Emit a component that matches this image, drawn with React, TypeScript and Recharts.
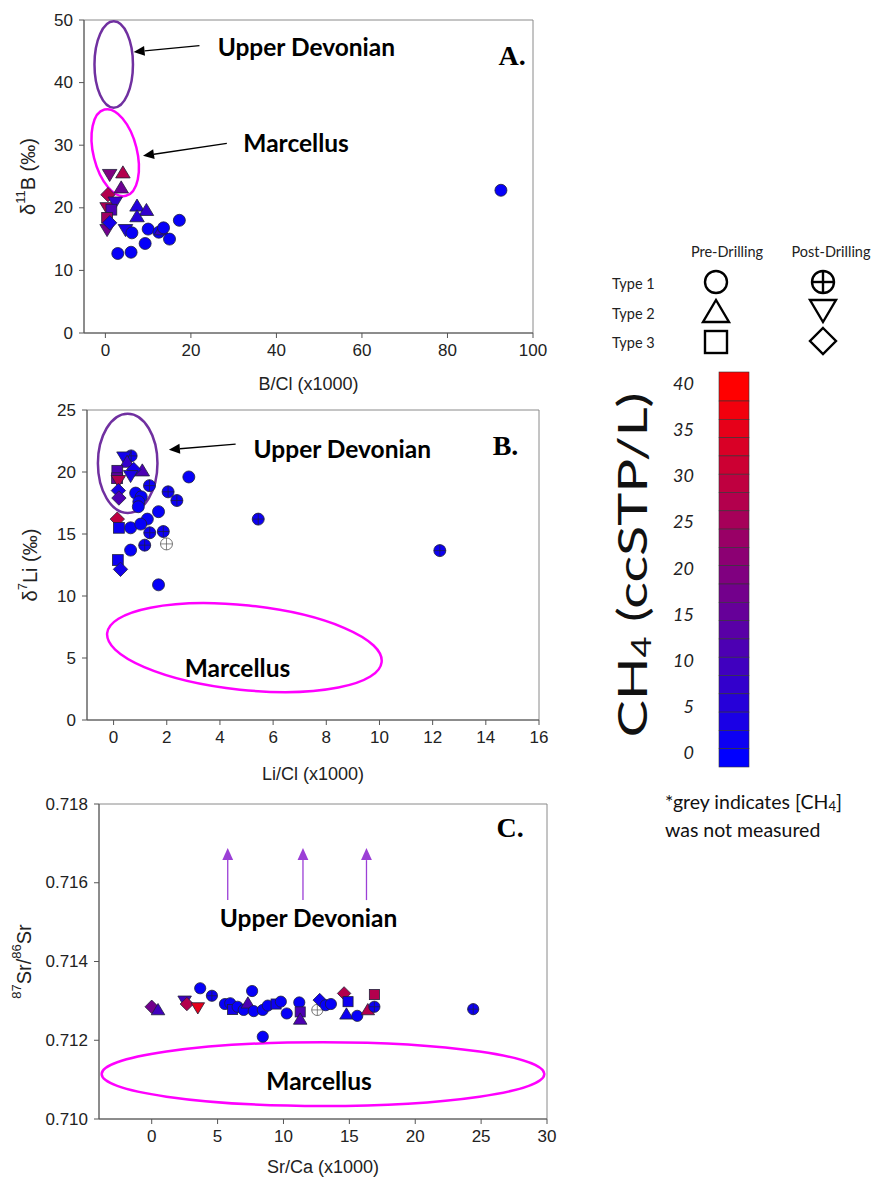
import React from 'react'
import {
  ScatterChart,
  Scatter,
  XAxis,
  YAxis,
  ReferenceArea,
  ReferenceLine,
  ReferenceDot,
} from 'recharts'

// marker kinds: pre-drilling c = type 1, t = type 2, s = type 3
//               post-drilling x = type 1, v = type 2, d = type 3
type Kind = 'c' | 't' | 's' | 'x' | 'v' | 'd'
type Pt = [number, number, number | null, Kind] // x, y, CH4 (ccSTP/L, null = not measured), kind

// A: B/Cl (x1000) vs d11B
const boronPts: Pt[] = [
  [1.0, 25.3, 20, 'v'],
  [4.1, 25.6, 28, 't'],
  [3.7, 23.2, 17, 't'],
  [0.6, 22.1, 28, 'd'],
  [0.4, 20.0, 27, 'v'],
  [2.3, 20.9, 8, 'v'],
  [1.4, 19.7, 12, 's'],
  [0.4, 18.4, 25, 's'],
  [0.4, 16.5, 18, 'v'],
  [1.0, 17.6, 3, 'd'],
  [7.4, 20.3, 5, 't'],
  [9.6, 19.6, 8, 't'],
  [7.4, 18.6, 6, 't'],
  [4.7, 16.5, 4, 'v'],
  [17.3, 18.0, 1, 'c'],
  [6.2, 16.0, 1, 'c'],
  [10.0, 16.6, 1, 'c'],
  [12.5, 16.1, 1, 'c'],
  [13.1, 16.5, 8, 't'],
  [13.6, 16.8, 1, 'c'],
  [15.0, 15.0, 1, 'c'],
  [9.3, 14.3, 1, 'c'],
  [2.9, 12.7, 1, 'c'],
  [6.0, 12.9, 1, 'c'],
  [92.5, 22.8, 1, 'c'],
]

// B: Li/Cl (x1000) vs d7Li
const lithiumPts: Pt[] = [
  [0.66, 21.3, 2, 'x'],
  [0.39, 21.2, 3, 'v'],
  [0.51, 20.8, 8, 't'],
  [0.14, 20.1, 12, 's'],
  [1.08, 20.1, 12, 't'],
  [0.76, 20.2, 3, 'd'],
  [0.64, 19.7, 4, 'v'],
  [0.13, 19.5, 15, 's'],
  [0.18, 19.3, 28, 'v'],
  [1.35, 18.9, 2, 'x'],
  [0.18, 18.5, 4, 'd'],
  [0.2, 17.9, 12, 'd'],
  [0.83, 18.3, 1, 'c'],
  [1.04, 18.0, 1, 'c'],
  [0.95, 17.6, 1, 'c'],
  [2.05, 18.4, 2, 'x'],
  [2.38, 17.7, 2, 'x'],
  [0.93, 17.2, 1, 'c'],
  [1.69, 16.8, 1, 'c'],
  [2.83, 19.6, 1, 'c'],
  [5.44, 16.2, 2, 'x'],
  [0.14, 16.2, 30, 'd'],
  [0.2, 15.5, 2, 's'],
  [0.64, 15.5, 1, 'c'],
  [1.27, 16.2, 1, 'c'],
  [1.02, 15.8, 1, 'c'],
  [1.36, 15.1, 2, 'x'],
  [1.87, 15.2, 2, 'x'],
  [1.99, 14.2, null, 'x'],
  [1.17, 14.1, 2, 'x'],
  [0.64, 13.7, 1, 'c'],
  [0.16, 12.9, 2, 's'],
  [0.26, 12.15, 3, 'd'],
  [1.69, 10.9, 1, 'c'],
  [12.27, 13.66, 2, 'x'],
]

// C: Sr/Ca (x1000) vs 87Sr/86Sr
const strontiumPts: Pt[] = [
  [0.0, 0.71285, 18, 'd'],
  [0.48, 0.71277, 10, 't'],
  [2.5, 0.713, 10, 'v'],
  [2.67, 0.71292, 28, 'd'],
  [3.5, 0.71283, 36, 'v'],
  [3.68, 0.71332, 1, 'c'],
  [4.57, 0.71313, 2, 'x'],
  [5.56, 0.71292, 1, 'c'],
  [5.96, 0.71294, 1, 'c'],
  [6.14, 0.71278, 3, 's'],
  [6.52, 0.71285, 1, 'c'],
  [6.98, 0.71277, 1, 'c'],
  [7.3, 0.71294, 12, 't'],
  [7.62, 0.71325, 1, 'c'],
  [7.74, 0.71274, 1, 'c'],
  [8.43, 0.71277, 1, 'c'],
  [8.81, 0.71288, 1, 'c'],
  [8.43, 0.71209, 1, 'c'],
  [9.44, 0.71292, 2, 's'],
  [9.8, 0.71298, 1, 'c'],
  [10.25, 0.71268, 1, 'c'],
  [11.2, 0.71296, 1, 'c'],
  [11.27, 0.71272, 12, 's'],
  [11.27, 0.71253, 12, 't'],
  [12.57, 0.71277, null, 'x'],
  [12.75, 0.71302, 2, 'd'],
  [13.2, 0.71289, 1, 'c'],
  [13.6, 0.71292, 1, 'c'],
  [14.6, 0.71319, 28, 'd'],
  [14.9, 0.71298, 2, 's'],
  [14.78, 0.71266, 2, 't'],
  [15.6, 0.71262, 1, 'c'],
  [16.4, 0.71277, 28, 't'],
  [16.9, 0.71316, 28, 's'],
  [16.9, 0.71285, 2, 'x'],
  [24.4, 0.71279, 2, 'x'],
]

const boronXTicks = [0, 20, 40, 60, 80, 100]
const boronYTicks = [0, 10, 20, 30, 40, 50]
const lithiumXTicks = [0, 2, 4, 6, 8, 10, 12, 14, 16]
const lithiumYTicks = [0, 5, 10, 15, 20, 25]
const strontiumXTicks = [0, 5, 10, 15, 20, 25, 30]
const strontiumYTicks = [0.71, 0.712, 0.714, 0.716, 0.718]
const ch4Ticks = [0, 5, 10, 15, 20, 25, 30, 35, 40]

const PURPLE = '#7030a0'
const MAGENTA = '#ff00ff'
const ARROW_PURPLE = '#9b3fd6'
const AXIS = '#555'
const BORDER = '#8a8a8a'
const LABEL_FONT = 'Lato, "Open Sans", sans-serif'
const SANS = '"Liberation Sans", Arial, sans-serif'

const ch4Color = (v: number) => {
  const t = Math.max(0, Math.min(1, v / 40))
  return `rgb(${Math.round(255 * t)},0,${Math.round(255 * (1 - t))})`
}

const toRows = (pts: Pt[]) => pts.map(([x, y, ch4, kind]) => ({ x, y, ch4, kind }))

function Marker({ cx, cy, payload, r }: any) {
  if (cx == null || cy == null) return null
  const grey = payload.ch4 == null
  const fill = grey ? '#ffffff' : ch4Color(payload.ch4)
  const stroke = grey ? '#555' : '#20203a'
  const sw = 0.8
  switch (payload.kind as Kind) {
    case 'c':
      return <circle cx={cx} cy={cy} r={r} fill={fill} stroke={stroke} strokeWidth={sw} />
    case 'x':
      return (
        <g>
          <circle cx={cx} cy={cy} r={r} fill={fill} stroke={stroke} strokeWidth={sw} />
          <line x1={cx - r} y1={cy} x2={cx + r} y2={cy} stroke={stroke} strokeWidth={0.7} />
          <line x1={cx} y1={cy - r} x2={cx} y2={cy + r} stroke={stroke} strokeWidth={0.7} />
        </g>
      )
    case 't': {
      const h = r * 1.15
      return (
        <polygon
          points={`${cx},${cy - h} ${cx - h * 1.05},${cy + h * 0.75} ${cx + h * 1.05},${cy + h * 0.75}`}
          fill={fill}
          stroke={stroke}
          strokeWidth={sw}
        />
      )
    }
    case 'v': {
      const h = r * 1.15
      return (
        <polygon
          points={`${cx},${cy + h} ${cx - h * 1.05},${cy - h * 0.75} ${cx + h * 1.05},${cy - h * 0.75}`}
          fill={fill}
          stroke={stroke}
          strokeWidth={sw}
        />
      )
    }
    case 's': {
      const h = r * 0.9
      return <rect x={cx - h} y={cy - h} width={2 * h} height={2 * h} fill={fill} stroke={stroke} strokeWidth={sw} />
    }
    case 'd': {
      const h = r * 1.2
      return (
        <polygon
          points={`${cx},${cy - h} ${cx + h},${cy} ${cx},${cy + h} ${cx - h},${cy}`}
          fill={fill}
          stroke={stroke}
          strokeWidth={sw}
        />
      )
    }
  }
  return null
}

const ellipseShape = (color: string, rot = 0) => (p: any) => {
  const cx = p.x + p.width / 2
  const cy = p.y + p.height / 2
  return (
    <ellipse
      cx={cx}
      cy={cy}
      rx={Math.abs(p.width) / 2}
      ry={Math.abs(p.height) / 2}
      transform={`rotate(${rot} ${cx} ${cy})`}
      fill="none"
      stroke={color}
      strokeWidth={2.5}
    />
  )
}

const arrowShape = (color: string, head: number, width: number) => (p: any) => {
  const { x1, y1, x2, y2 } = p
  const ang = Math.atan2(y2 - y1, x2 - x1)
  const bx = x2 - head * Math.cos(ang)
  const by = y2 - head * Math.sin(ang)
  const w = head * 0.45
  const px = -Math.sin(ang) * w
  const py = Math.cos(ang) * w
  return (
    <g>
      <line x1={x1} y1={y1} x2={bx} y2={by} stroke={color} strokeWidth={width} />
      <polygon points={`${x2},${y2} ${bx + px},${by + py} ${bx - px},${by - py}`} fill={color} />
    </g>
  )
}

const textShape = (txt: string, kind: 'note' | 'panel') => (p: any) => (
  <text
    x={p.cx}
    y={p.cy}
    textAnchor="middle"
    dominantBaseline="central"
    fontFamily={kind === 'note' ? LABEL_FONT : '"Liberation Serif", serif'}
    fontWeight={700}
    fontSize={kind === 'note' ? 24.5 : 28}
    fill="#000"
  >
    {txt}
  </text>
)

const xTick = (p: any) => (
  <text x={p.x} y={p.y} dy="0.75em" textAnchor="middle" fontSize={17} fill="#222" fontFamily={SANS}>
    {p.payload.value}
  </text>
)

const yTick = (fmt: (v: number) => string) => (p: any) => (
  <text x={p.x} y={p.y} textAnchor="end" dominantBaseline="central" fontSize={17} fill="#222" fontFamily={SANS}>
    {fmt(p.payload.value)}
  </text>
)

const yTitle = (dx: number, parts: [string, boolean][]) => (props: any) => {
  const vb = props.viewBox
  const cx = vb.x + dx
  const cy = vb.y + vb.height / 2
  let sup = false
  return (
    <text
      x={cx}
      y={cy}
      transform={`rotate(-90 ${cx} ${cy})`}
      textAnchor="middle"
      dominantBaseline="central"
      fontSize={20}
      fill="#222"
      fontFamily={SANS}
    >
      {parts.map(([t, isSup], i) => {
        const dy = isSup && !sup ? -8 : !isSup && sup ? 8 : 0
        sup = isSup
        return (
          <tspan key={i} dy={dy} fontSize={isSup ? 13 : 20}>
            {t}
          </tspan>
        )
      })}
    </text>
  )
}

const xLabelStyle = { fontSize: 18, fill: '#222', fontFamily: SANS }

function Legend() {
  const cellCount = 21
  const barTop = 372
  const barBottom = 767
  const firstCell = 29
  const cellH = (barBottom - barTop - firstCell) / (cellCount - 1)
  const cells = Array.from({ length: cellCount }, (_, i) => i)
  const tickY = (v: number) => 752 - (v / 40) * 369
  const s = '#000'
  return (
    <svg width={880} height={1184} style={{ position: 'absolute', left: 0, top: 0 }}>
      <g fontFamily={LABEL_FONT} fontSize={14.5} fill="#222">
        <text x={727} y={251} textAnchor="middle" dominantBaseline="central">Pre-Drilling</text>
        <text x={831} y={251} textAnchor="middle" dominantBaseline="central">Post-Drilling</text>
        <text x={612} y={283} dominantBaseline="central">Type 1</text>
        <text x={612} y={313} dominantBaseline="central">Type 2</text>
        <text x={612} y={342} dominantBaseline="central">Type 3</text>
      </g>
      <g fill="#fff" stroke={s} strokeWidth={2.4}>
        <circle cx={716} cy={282} r={11} />
        <polygon points="716,300 703,322 729,322" />
        <rect x={705} y={331} width={22} height={22} />
        <circle cx={823} cy={282} r={11} />
        <line x1={812} y1={282} x2={834} y2={282} />
        <line x1={823} y1={271} x2={823} y2={293} />
        <polygon points="810,300 836,300 823,322" />
        <polygon points="823,328 836,341 823,354 810,341" />
      </g>
      {cells.map((i) => {
        const y0 = i === 0 ? barTop : barTop + firstCell + (i - 1) * cellH
        const h = i === 0 ? firstCell : cellH
        return (
          <rect
            key={i}
            x={719}
            y={y0}
            width={30}
            height={h}
            fill={ch4Color(40 - i * 2)}
            stroke="#333"
            strokeWidth={0.6}
          />
        )
      })}
      <g fontFamily={LABEL_FONT} fontStyle="italic" fontSize={18} fill="#222">
        {ch4Ticks.map((v) => (
          <text key={v} x={694} y={tickY(v)} textAnchor="end" dominantBaseline="central">
            {v}
          </text>
        ))}
      </g>
      <text
        x={632}
        y={565}
        transform="rotate(-90 632 565)"
        textAnchor="middle"
        dominantBaseline="central"
        fontFamily={LABEL_FONT}
        fontSize={40}
        fill="#111"
        textLength={345}
        lengthAdjust="spacingAndGlyphs"
      >
        CH<tspan dy={9} fontSize={26}>4</tspan>
        <tspan dy={-9}> (ccSTP/L)</tspan>
      </text>
      <g fontFamily={LABEL_FONT} fontSize={19.5} fill="#111">
        <text x={665} y={801} dominantBaseline="central">
          *grey indicates [CH<tspan dy={5} fontSize={13}>4</tspan>
          <tspan dy={-5}>]</tspan>
        </text>
        <text x={665} y={829} dominantBaseline="central">was not measured</text>
      </g>
    </svg>
  )
}

export default function App() {
  const shapeA = (p: any) => <Marker {...p} r={6} />
  const shapeB = (p: any) => <Marker {...p} r={6} />
  const shapeC = (p: any) => <Marker {...p} r={5.6} />
  const plain = (v: number) => String(v)
  return (
    <div
      style={{
        position: 'absolute',
        left: 0,
        top: 0,
        width: 880,
        height: 1184,
        background: '#fff',
        fontFamily: SANS,
      }}
    >
      {/* A */}
      <div style={{ position: 'absolute', left: 0, top: 0 }}>
        <ScatterChart width={565} height={400} margin={{ top: 20, right: 32, bottom: 7, left: 0 }}>
          <XAxis
            type="number"
            dataKey="x"
            domain={[-5, 100]}
            ticks={boronXTicks}
            allowDataOverflow
            height={60}
            stroke={AXIS}
            tickSize={5}
            tickMargin={5}
            tick={xTick}
            label={{ value: 'B/Cl (x1000)', position: 'insideBottom', offset: 3, ...xLabelStyle }}
          />
          <YAxis
            type="number"
            dataKey="y"
            domain={[0, 50]}
            ticks={boronYTicks}
            allowDataOverflow
            width={84}
            stroke={AXIS}
            tickSize={5}
            tickMargin={6}
            tick={yTick(plain)}
            label={yTitle(28, [['δ', false], ['11', true], ['B (‰)', false]])}
          />
          <ReferenceArea x1={-5} x2={100} y1={0} y2={50} fill="none" stroke={BORDER} strokeWidth={1} ifOverflow="visible" />
          <ReferenceArea x1={-2.55} x2={6.45} y1={36.0} y2={49.8} ifOverflow="visible" shape={ellipseShape(PURPLE)} />
          <ReferenceArea x1={-2.8} x2={7.4} y1={21.7} y2={35.9} ifOverflow="visible" shape={ellipseShape(MAGENTA, -14)} />
          <ReferenceLine segment={[{ x: 22.0, y: 45.9 }, { x: 6.6, y: 44.9 }]} ifOverflow="visible" shape={arrowShape('#000', 11, 1.4)} />
          <ReferenceLine segment={[{ x: 28.4, y: 30.3 }, { x: 8.8, y: 28.3 }]} ifOverflow="visible" shape={arrowShape('#000', 11, 1.4)} />
          <ReferenceDot x={47.0} y={45.7} r={0} ifOverflow="visible" shape={textShape('Upper Devonian', 'note')} />
          <ReferenceDot x={44.6} y={30.5} r={0} ifOverflow="visible" shape={textShape('Marcellus', 'note')} />
          <ReferenceDot x={95.1} y={44.4} r={0} ifOverflow="visible" shape={textShape('A.', 'panel')} />
          <Scatter data={toRows(boronPts)} isAnimationActive={false} shape={shapeA} />
        </ScatterChart>
      </div>

      {/* B */}
      <div style={{ position: 'absolute', left: 0, top: 390 }}>
        <ScatterChart width={565} height={400} margin={{ top: 20, right: 26, bottom: 10, left: 0 }}>
          <XAxis
            type="number"
            dataKey="x"
            domain={[-1, 16]}
            ticks={lithiumXTicks}
            allowDataOverflow
            height={60}
            stroke={AXIS}
            tickSize={5}
            tickMargin={5}
            tick={xTick}
            label={{ value: 'Li/Cl (x1000)', position: 'insideBottom', offset: 0, ...xLabelStyle }}
          />
          <YAxis
            type="number"
            dataKey="y"
            domain={[0, 25]}
            ticks={lithiumYTicks}
            allowDataOverflow
            width={87}
            stroke={AXIS}
            tickSize={5}
            tickMargin={6}
            tick={yTick(plain)}
            label={yTitle(30, [['δ', false], ['7', true], ['Li (‰)', false]])}
          />
          <ReferenceArea x1={-1} x2={16} y1={0} y2={25} fill="none" stroke={BORDER} strokeWidth={1} ifOverflow="visible" />
          <ReferenceArea x1={-0.59} x2={1.65} y1={16.7} y2={24.7} ifOverflow="visible" shape={ellipseShape(PURPLE)} />
          <ReferenceArea x1={-0.27} x2={10.11} y1={2.43} y2={9.25} ifOverflow="visible" shape={ellipseShape(MAGENTA, 6)} />
          <ReferenceLine segment={[{ x: 4.59, y: 22.25 }, { x: 2.08, y: 21.8 }]} ifOverflow="visible" shape={arrowShape('#000', 11, 1.4)} />
          <ReferenceDot x={8.6} y={21.9} r={0} ifOverflow="visible" shape={textShape('Upper Devonian', 'note')} />
          <ReferenceDot x={4.66} y={4.2} r={0} ifOverflow="visible" shape={textShape('Marcellus', 'note')} />
          <ReferenceDot x={14.74} y={22.1} r={0} ifOverflow="visible" shape={textShape('B.', 'panel')} />
          <Scatter data={toRows(lithiumPts)} isAnimationActive={false} shape={shapeB} />
        </ScatterChart>
      </div>

      {/* C */}
      <div style={{ position: 'absolute', left: 0, top: 784 }}>
        <ScatterChart width={571} height={400} margin={{ top: 20, right: 24, bottom: 5, left: 0 }}>
          <XAxis
            type="number"
            dataKey="x"
            domain={[-4, 30]}
            ticks={strontiumXTicks}
            allowDataOverflow
            height={60}
            stroke={AXIS}
            tickSize={5}
            tickMargin={5}
            tick={xTick}
            label={{ value: 'Sr/Ca (x1000)', position: 'insideBottom', offset: 6, ...xLabelStyle }}
          />
          <YAxis
            type="number"
            dataKey="y"
            domain={[0.71, 0.718]}
            ticks={strontiumYTicks}
            allowDataOverflow
            width={99}
            stroke={AXIS}
            tickSize={5}
            tickMargin={6}
            tick={yTick((v) => v.toFixed(3))}
            label={yTitle(24, [['87', true], ['Sr/', false], ['86', true], ['Sr', false]])}
          />
          <ReferenceArea x1={-4} x2={30} y1={0.71} y2={0.718} fill="none" stroke={BORDER} strokeWidth={1} ifOverflow="visible" />
          <ReferenceArea x1={-3.8} x2={29.8} y1={0.71033} y2={0.71195} ifOverflow="visible" shape={ellipseShape(MAGENTA)} />
          <ReferenceLine segment={[{ x: 5.77, y: 0.71556 }, { x: 5.77, y: 0.71688 }]} ifOverflow="visible" shape={arrowShape(ARROW_PURPLE, 12, 1.3)} />
          <ReferenceLine segment={[{ x: 11.48, y: 0.71556 }, { x: 11.48, y: 0.71688 }]} ifOverflow="visible" shape={arrowShape(ARROW_PURPLE, 12, 1.3)} />
          <ReferenceLine segment={[{ x: 16.3, y: 0.71556 }, { x: 16.3, y: 0.71688 }]} ifOverflow="visible" shape={arrowShape(ARROW_PURPLE, 12, 1.3)} />
          <ReferenceDot x={11.9} y={0.71513} r={0} ifOverflow="visible" shape={textShape('Upper Devonian', 'note')} />
          <ReferenceDot x={12.7} y={0.71099} r={0} ifOverflow="visible" shape={textShape('Marcellus', 'note')} />
          <ReferenceDot x={27.2} y={0.71741} r={0} ifOverflow="visible" shape={textShape('C.', 'panel')} />
          <Scatter data={toRows(strontiumPts)} isAnimationActive={false} shape={shapeC} />
        </ScatterChart>
      </div>

      <Legend />
    </div>
  )
}
